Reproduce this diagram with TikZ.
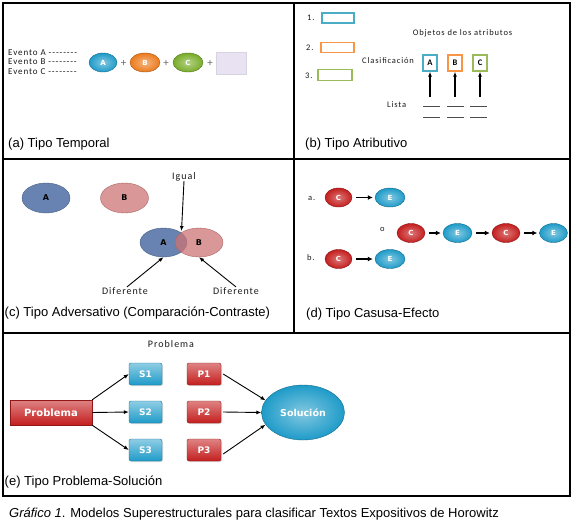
\documentclass[tikz,border=0pt]{standalone}
\usepackage{fontspec}
\setmainfont{Liberation Sans}
\newfontfamily\notefont[LetterSpace=10]{Carlito}
\newfontfamily\boxfont{DejaVu Sans}
\usetikzlibrary{arrows.meta,shapes.geometric,shadows}

\definecolor{eggblue}{RGB}{30,155,200}
\definecolor{eggorange}{RGB}{236,122,28}
\definecolor{egggreen}{RGB}{120,172,40}
\definecolor{eggred}{RGB}{196,30,30}
\definecolor{lineblue}{RGB}{75,172,198}
\definecolor{lineorange}{RGB}{247,150,70}
\definecolor{linegreen}{RGB}{155,187,89}
\definecolor{setblue}{RGB}{88,118,168}
\definecolor{setrose}{RGB}{204,116,116}
\definecolor{lavender}{RGB}{232,226,242}

\newcommand{\dashrow}{{-}{-}{-}{-}{-}{-}{-}{-}}

\begin{document}
\begin{tikzpicture}[x=1pt, y=-1pt,
	tag/.style={font=\fontsize{13}{15}\selectfont, anchor=base west, inner sep=0pt},
	note/.style={font=\notefont\fontsize{8.5}{10}\selectfont, text=black!90, inner sep=0pt},
	bignote/.style={note, font=\notefont\fontsize{10}{12}\selectfont},
	arrow/.style={-{Latex[length=5pt,width=4pt]}, line width=0.9pt},
	fat arrow/.style={-{Latex[length=5pt,width=5pt]}, line width=1.3pt, shorten <=4pt, shorten >=2pt},
	egg/.style={ellipse, minimum width=28pt, minimum height=19pt, inner sep=0pt, text=white, font=\boxfont\bfseries\fontsize{7}{8}\selectfont},
	blue egg/.style={egg, draw=eggblue!70!black, inner color=eggblue!55!white, outer color=eggblue},
	orange egg/.style={egg, draw=eggorange!70!black, inner color=eggorange!55!white, outer color=eggorange},
	green egg/.style={egg, draw=egggreen!70!black, inner color=egggreen!55!white, outer color=egggreen},
	red egg/.style={egg, draw=eggred!70!black, inner color=eggred!60!white, outer color=eggred},
	empty box/.style={draw, line width=1.4pt, minimum height=10pt, inner sep=0pt},
	attr box/.style={draw, line width=1.4pt, minimum width=14pt, minimum height=16pt, inner sep=0pt, font=\notefont\bfseries\fontsize{8.5}{10}\selectfont},
	set/.style={ellipse, minimum width=48pt, minimum height=30pt, inner sep=0pt, text opacity=1, font=\boxfont\bfseries\fontsize{8}{9}\selectfont},
	set blue/.style={set, fill=setblue, fill opacity=.9, draw=setblue!80!black},
	set rose/.style={set, fill=setrose, fill opacity=.75, draw=setrose!85!black},
	tile/.style={rounded corners=2pt, minimum height=22pt, inner sep=0pt, text=white, font=\boxfont\bfseries\fontsize{9}{10}\selectfont, drop shadow={opacity=.3, shadow xshift=1pt, shadow yshift=-1pt}},
	blue tile/.style={tile, minimum width=33pt, draw=eggblue!75!black, top color=eggblue!50!white, bottom color=eggblue},
	red tile/.style={tile, minimum width=34pt, draw=eggred!75!black, top color=eggred!55!white, bottom color=eggred}]
	\useasboundingbox (0,0) rectangle (573,523);
	\draw[line width=1.1pt] (3,3) rectangle (570,496);
	\draw[line width=1.1pt] (3,159) -- (570,159);
	\draw[line width=1.1pt] (3,333) -- (570,333);
	\draw[line width=1.1pt] (294,3) -- (294,333);

	\node[note, anchor=base west, font=\notefont\fontsize{9}{10}\selectfont] (evA) at (8,55) {Evento A \dashrow};
	\node[note, anchor=base west, font=\notefont\fontsize{9}{10}\selectfont] (evB) at (8,64.5) {Evento B \dashrow};
	\node[note, anchor=base west, font=\notefont\fontsize{9}{10}\selectfont] (evC) at (8,74) {Evento C \dashrow};
	\node[blue egg] (tA) at (103,62.5) {A};
	\node[orange egg, minimum width=30pt] (tB) at (145,62.5) {B};
	\node[green egg, minimum width=30pt] (tC) at (188,62.5) {C};
	\node[draw=lavender!85!gray, fill=lavender, minimum width=30pt, minimum height=22pt] (tD) at (231,63) {};
	\node[note, text=black!60, font=\notefont\fontsize{11}{11}\selectfont] (plus1) at (123.5,63) {+};
	\node[note, text=black!60, font=\notefont\fontsize{11}{11}\selectfont] (plus2) at (166,63) {+};
	\node[note, text=black!60, font=\notefont\fontsize{11}{11}\selectfont] (plus3) at (210,63) {+};
	\node[tag] at (8,147) {(a) Tipo Temporal};

	\node[note, anchor=base west] (n1) at (307,20) {1.};
	\node[note, anchor=base west] (n2) at (306,50) {2.};
	\node[note, anchor=base west] (n3) at (305,78) {3.};
	\node[empty box, draw=lineblue, minimum width=32pt] (o1) at (338,18) {};
	\node[empty box, draw=lineorange, minimum width=33pt] (o2) at (337.5,47.5) {};
	\node[empty box, draw=linegreen, minimum width=34pt, minimum height=11pt] (o3) at (335,75) {};
	\node[note, anchor=base] (objs) at (462.5,35) {Objetos de los atributos};
	\node[note, anchor=base west] (clas) at (362,63) {Clasificación};
	\node[attr box, draw=lineblue] (clsA) at (430,63) {A};
	\node[attr box, draw=lineorange] (clsB) at (455,63) {B};
	\node[attr box, draw=linegreen] (clsC) at (480,63) {C};
	\node[note, anchor=base west] (lista) at (387,107) {Lista};
	\foreach \n/\x in {A/430,B/455,C/480} {
		\coordinate (up\n) at (\x,97);
		\draw[arrow, line width=1.1pt] (up\n) -- (cls\n);
	}
	\foreach \x in {423,447,470} {
		\draw[line width=0.5pt, black!70] (\x,106) -- ++(17,0);
		\draw[line width=0.5pt, black!70] (\x,117) -- ++(17,0);
	}
	\node[tag] at (305,147) {(b) Tipo Atributivo};

	\node[set blue] (cA) at (46,198) {A};
	\node[set rose] (cB) at (124.5,198) {B};
	\node[set blue, minimum width=47pt, minimum height=29pt] (ovA) at (163.5,242.5) {A};
	\node[set rose, minimum width=48pt, minimum height=29pt] (ovB) at (199,242.5) {B};
	\node[bignote, anchor=base] (igual) at (184,179) {Igual};
	\coordinate (meet) at (181.5,231);
	\draw[arrow] (igual.south) -- (meet);
	\node[bignote, anchor=base] (difL) at (125,294) {Diferente};
	\node[bignote, anchor=base] (difR) at (236,294) {Diferente};
	\draw[arrow] ([xshift=2pt]difL.north) -- (ovA.south);
	\draw[arrow] (difR.north) -- (ovB.south);
	\node[tag] at (4.5,316) {(c) Tipo Adversativo (Comparación-Contraste)};

	\node[note, anchor=base west] (la) at (308,200) {a.};
	\node[red egg, minimum width=27pt] (c1) at (338.5,197.5) {C};
	\node[blue egg, minimum width=30pt] (e1) at (390,197.5) {E};
	\draw[fat arrow] (c1) -- (e1);
	\node[note, anchor=base west] (lo) at (380,231) {o};
	\node[red egg] (c2) at (411,233) {C};
	\node[blue egg, minimum width=29pt] (e2) at (457.5,233) {E};
	\node[red egg] (c3) at (506,233) {C};
	\node[blue egg] (e3) at (553.5,233) {E};
	\draw[fat arrow] (c2) -- (e2);
	\draw[fat arrow] (e2) -- (c3);
	\draw[fat arrow] (c3) -- (e3);
	\node[note, anchor=base west] (lb) at (307,260) {b.};
	\node[red egg, minimum width=27pt] (c4) at (338.5,259) {C};
	\node[blue egg, minimum width=30pt] (e4) at (390,259) {E};
	\draw[fat arrow] (c4) -- (e4);
	\node[tag] at (306,317) {(d) Tipo Casusa-Efecto};

	\node[bignote, anchor=base] (ptitle) at (171,347) {Problema};
	\node[red tile, rounded corners=0pt, minimum width=82pt, minimum height=25pt, font=\boxfont\bfseries\fontsize{10}{12}\selectfont] (prob) at (51,412.5) {Problema};
	\node[blue tile] (s1) at (145.5,374) {S1};
	\node[blue tile] (s2) at (145.5,412) {S2};
	\node[blue tile] (s3) at (145.5,450) {S3};
	\node[red tile] (p1) at (204,374) {P1};
	\node[red tile] (p2) at (204,412) {P2};
	\node[red tile] (p3) at (204,450) {P3};
	\node[blue egg, minimum width=83pt, minimum height=55pt, font=\boxfont\bfseries\fontsize{9.5}{11}\selectfont] (sol) at (303,412.5) {Solución};
	\draw[arrow] (prob.north east) -- (s1.west);
	\draw[arrow] (prob.east) -- (s2.west);
	\draw[arrow] (prob.south east) -- (s3.west);
	\draw[arrow] ([xshift=2pt]p1.east) -- (sol.162);
	\draw[arrow] ([xshift=2pt]p2.east) -- (sol.west);
	\draw[arrow] ([xshift=2pt,yshift=-4pt]p3.east) -- (sol.198);
	\node[tag] at (4.5,485) {(e) Tipo Problema-Solución};

	\node[tag] (caption) at (9,517) {\textit{Gráfico 1}. Modelos Superestructurales para clasificar Textos Expositivos de Horowitz};
\end{tikzpicture}
\end{document}
